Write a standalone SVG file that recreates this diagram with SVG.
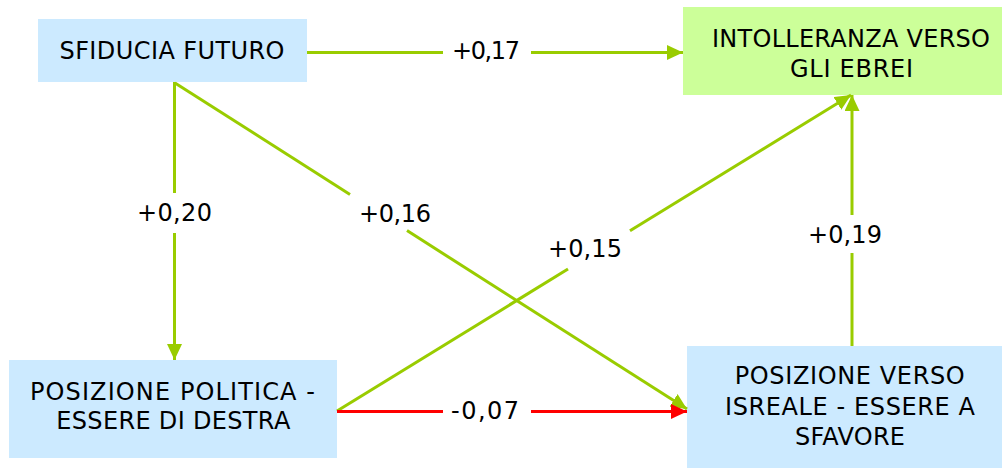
<svg xmlns="http://www.w3.org/2000/svg" width="1004" height="469" viewBox="0 0 1004 469">
<style>
.blue{fill:#cceaff}
.green{fill:#ccff99}
.t{font-family:"DejaVu Sans",sans-serif;font-size:24px;fill:#000;text-anchor:middle}
.g{stroke:#99cc00;stroke-width:3;fill:none}
.r{stroke:#ff0000;stroke-width:3;fill:none}
</style>
<defs>
<marker id="ag" markerUnits="userSpaceOnUse" markerWidth="16" markerHeight="15" refX="16" refY="7.5" orient="auto" viewBox="0 0 16 15">
<path d="M0,0 L16,7.5 L0,15 z" fill="#99cc00"/>
</marker>
<marker id="ar" markerUnits="userSpaceOnUse" markerWidth="16" markerHeight="15" refX="16" refY="7.5" orient="auto" viewBox="0 0 16 15">
<path d="M0,0 L16,7.5 L0,15 z" fill="#ff0000"/>
</marker>
</defs>
<rect width="1004" height="469" fill="#fff"/>
<g id="n1">
<rect class="blue" x="38" y="19" width="269" height="63"/>
<text class="t" x="172" y="59" textLength="225" lengthAdjust="spacing">SFIDUCIA FUTURO</text>
</g>
<g id="n2">
<rect class="green" x="683" y="7" width="319" height="88"/>
<text class="t" x="851" y="47" textLength="278" lengthAdjust="spacing">INTOLLERANZA VERSO</text>
<text class="t" x="851.5" y="77" textLength="123" lengthAdjust="spacing">GLI EBREI</text>
</g>
<g id="n3">
<rect class="blue" x="9" y="360" width="328" height="98"/>
<text class="t" x="172.5" y="400" textLength="285" lengthAdjust="spacing">POSIZIONE POLITICA -</text>
<text class="t" x="173.3" y="429" textLength="234" lengthAdjust="spacing">ESSERE DI DESTRA</text>
</g>
<g id="n4">
<rect class="blue" x="687" y="346" width="315" height="122"/>
<text class="t" x="849.7" y="384" textLength="230" lengthAdjust="spacing">POSIZIONE VERSO</text>
<text class="t" x="850" y="415" textLength="250" lengthAdjust="spacing">ISREALE - ESSERE A</text>
<text class="t" x="850" y="445" textLength="110" lengthAdjust="spacing">SFAVORE</text>
</g>
<g id="connectors">
<line class="g" x1="307" y1="52.5" x2="443" y2="52.5"/>
<line class="g" x1="531" y1="52.5" x2="683" y2="52.5" marker-end="url(#ag)"/>
<line class="g" x1="174.5" y1="82" x2="174.5" y2="193"/>
<line class="g" x1="174.5" y1="233" x2="174.5" y2="360" marker-end="url(#ag)"/>
<line class="g" x1="175" y1="83" x2="350" y2="194.4"/>
<line class="g" x1="407" y1="230.6" x2="687" y2="409" marker-end="url(#ag)"/>
<line class="g" x1="337" y1="411" x2="568" y2="269"/>
<line class="g" x1="630" y1="230.7" x2="851" y2="95" marker-end="url(#ag)"/>
<line class="g" x1="852" y1="346" x2="852" y2="253"/>
<line class="g" x1="852" y1="215" x2="852" y2="95" marker-end="url(#ag)"/>
<line class="r" x1="337" y1="411.5" x2="443" y2="411.5"/>
<line class="r" x1="531" y1="411.5" x2="687" y2="411.5" marker-end="url(#ar)"/>
<text class="t" x="486" y="59" textLength="68" lengthAdjust="spacing">+0,17</text>
<text class="t" x="174.5" y="221" textLength="75" lengthAdjust="spacing">+0,20</text>
<text class="t" x="395" y="222" textLength="72" lengthAdjust="spacing">+0,16</text>
<text class="t" x="585" y="257" textLength="74" lengthAdjust="spacing">+0,15</text>
<text class="t" x="845" y="243" textLength="74" lengthAdjust="spacing">+0,19</text>
<text class="t" x="485" y="419" textLength="68" lengthAdjust="spacing">-0,07</text>
</g>
</svg>
